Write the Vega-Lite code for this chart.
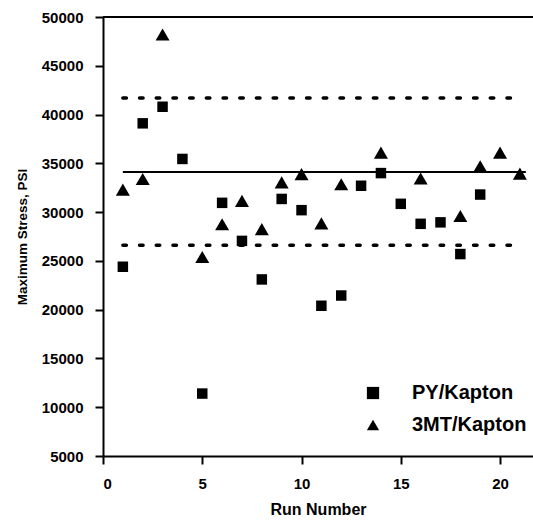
{
  "$schema": "https://vega.github.io/schema/vega-lite/v6.json",
  "width": 430,
  "height": 439,
  "autosize": {"type": "none"},
  "padding": {"left": 103, "top": 17, "right": 0, "bottom": 66},
  "background": "white",
  "config": {
    "font": "Liberation Sans",
    "view": {"stroke": null},
    "axis": {"grid": false, "domainColor": "black", "tickColor": "black", "labelColor": "black", "titleColor": "black"}
  },
  "datasets": {
    "runs": [
      {"run": 1, "series": "PY/Kapton", "stress": 24400},
      {"run": 2, "series": "PY/Kapton", "stress": 39100},
      {"run": 3, "series": "PY/Kapton", "stress": 40800},
      {"run": 4, "series": "PY/Kapton", "stress": 35450},
      {"run": 5, "series": "PY/Kapton", "stress": 11400},
      {"run": 6, "series": "PY/Kapton", "stress": 30950},
      {"run": 7, "series": "PY/Kapton", "stress": 27050},
      {"run": 8, "series": "PY/Kapton", "stress": 23100},
      {"run": 9, "series": "PY/Kapton", "stress": 31350},
      {"run": 10, "series": "PY/Kapton", "stress": 30200},
      {"run": 11, "series": "PY/Kapton", "stress": 20400},
      {"run": 12, "series": "PY/Kapton", "stress": 21450},
      {"run": 13, "series": "PY/Kapton", "stress": 32700},
      {"run": 14, "series": "PY/Kapton", "stress": 34000},
      {"run": 15, "series": "PY/Kapton", "stress": 30850},
      {"run": 16, "series": "PY/Kapton", "stress": 28800},
      {"run": 17, "series": "PY/Kapton", "stress": 28950},
      {"run": 18, "series": "PY/Kapton", "stress": 25700},
      {"run": 19, "series": "PY/Kapton", "stress": 31800},
      {"run": 1, "series": "3MT/Kapton", "stress": 32300},
      {"run": 2, "series": "3MT/Kapton", "stress": 33400},
      {"run": 3, "series": "3MT/Kapton", "stress": 48200},
      {"run": 5, "series": "3MT/Kapton", "stress": 25400},
      {"run": 6, "series": "3MT/Kapton", "stress": 28750},
      {"run": 7, "series": "3MT/Kapton", "stress": 31150},
      {"run": 8, "series": "3MT/Kapton", "stress": 28250},
      {"run": 9, "series": "3MT/Kapton", "stress": 33050},
      {"run": 10, "series": "3MT/Kapton", "stress": 33900},
      {"run": 11, "series": "3MT/Kapton", "stress": 28850},
      {"run": 12, "series": "3MT/Kapton", "stress": 32850},
      {"run": 14, "series": "3MT/Kapton", "stress": 36100},
      {"run": 16, "series": "3MT/Kapton", "stress": 33450},
      {"run": 18, "series": "3MT/Kapton", "stress": 29600},
      {"run": 19, "series": "3MT/Kapton", "stress": 34700},
      {"run": 20, "series": "3MT/Kapton", "stress": 36100},
      {"run": 21, "series": "3MT/Kapton", "stress": 33950}
    ],
    "limits": [
      {"kind": "mean", "stress": 34100, "from": 1, "to": 21.3},
      {"kind": "upper", "stress": 41700, "from": 1, "to": 20.6},
      {"kind": "lower", "stress": 26600, "from": 1, "to": 20.6}
    ]
  },
  "encoding": {
    "x": {
      "type": "quantitative",
      "scale": {"domain": [0, 21.66], "nice": false, "zero": false},
      "axis": {
        "title": "Run Number",
        "values": [0, 5, 10, 15, 20],
        "format": "d",
        "labelFontSize": 15,
        "labelFontWeight": "bold",
        "labelPadding": 12,
        "tickSize": 8,
        "tickWidth": 2,
        "domainWidth": 2,
        "titleFontSize": 16,
        "titleFontWeight": "bold",
        "titlePadding": 10
      }
    },
    "y": {
      "type": "quantitative",
      "scale": {"domain": [5000, 50000], "nice": false, "zero": false},
      "axis": {
        "title": "Maximum Stress, PSI",
        "values": [5000, 10000, 15000, 20000, 25000, 30000, 35000, 40000, 45000, 50000],
        "format": "d",
        "labelFontSize": 15,
        "labelFontWeight": "bold",
        "labelPadding": 12,
        "tickSize": 8,
        "tickWidth": 2,
        "domainWidth": 2,
        "titleFontSize": 13.5,
        "titleFontWeight": "bold",
        "titlePadding": 12
      }
    }
  },
  "layer": [
    {
      "data": {"name": "limits"},
      "transform": [{"filter": "datum.kind === 'mean'"}],
      "mark": {"type": "rule", "color": "black", "strokeWidth": 2},
      "encoding": {
        "x": {"field": "from", "type": "quantitative"},
        "x2": {"field": "to"},
        "y": {"field": "stress", "type": "quantitative"}
      }
    },
    {
      "data": {"name": "limits"},
      "transform": [{"filter": "datum.kind !== 'mean'"}],
      "mark": {"type": "rule", "color": "black", "strokeWidth": 3.5, "strokeCap": "round", "strokeDash": [3.5, 13.2]},
      "encoding": {
        "x": {"field": "from", "type": "quantitative"},
        "x2": {"field": "to"},
        "y": {"field": "stress", "type": "quantitative"}
      }
    },
    {
      "data": {"name": "runs"},
      "mark": {"type": "point", "filled": true, "color": "black", "opacity": 1, "strokeWidth": 0},
      "encoding": {
        "x": {"field": "run", "type": "quantitative"},
        "y": {"field": "stress", "type": "quantitative"},
        "shape": {
          "field": "series",
          "type": "nominal",
          "scale": {"domain": ["PY/Kapton", "3MT/Kapton"], "range": ["square", "triangle-up"]},
          "legend": {
            "title": null,
            "orient": "none",
            "legendX": 260,
            "legendY": 366,
            "padding": 0,
            "labelFontSize": 20,
            "labelFontWeight": "bold",
            "labelOffset": 29,
            "rowPadding": 12,
            "symbolSize": 150,
            "symbolFillColor": "black",
            "symbolStrokeColor": "black",
            "symbolStrokeWidth": 0
          }
        },
        "size": {
          "condition": {"test": "datum.series === 'PY/Kapton'", "value": 110},
          "value": 196
        }
      }
    },
    {
      "data": {"values": [{}]},
      "mark": {"type": "rule", "color": "black", "strokeWidth": 2},
      "encoding": {
        "x": {"datum": 0, "type": "quantitative"},
        "x2": {"datum": 21.66},
        "y": {"datum": 50000, "type": "quantitative"}
      }
    }
  ]
}
